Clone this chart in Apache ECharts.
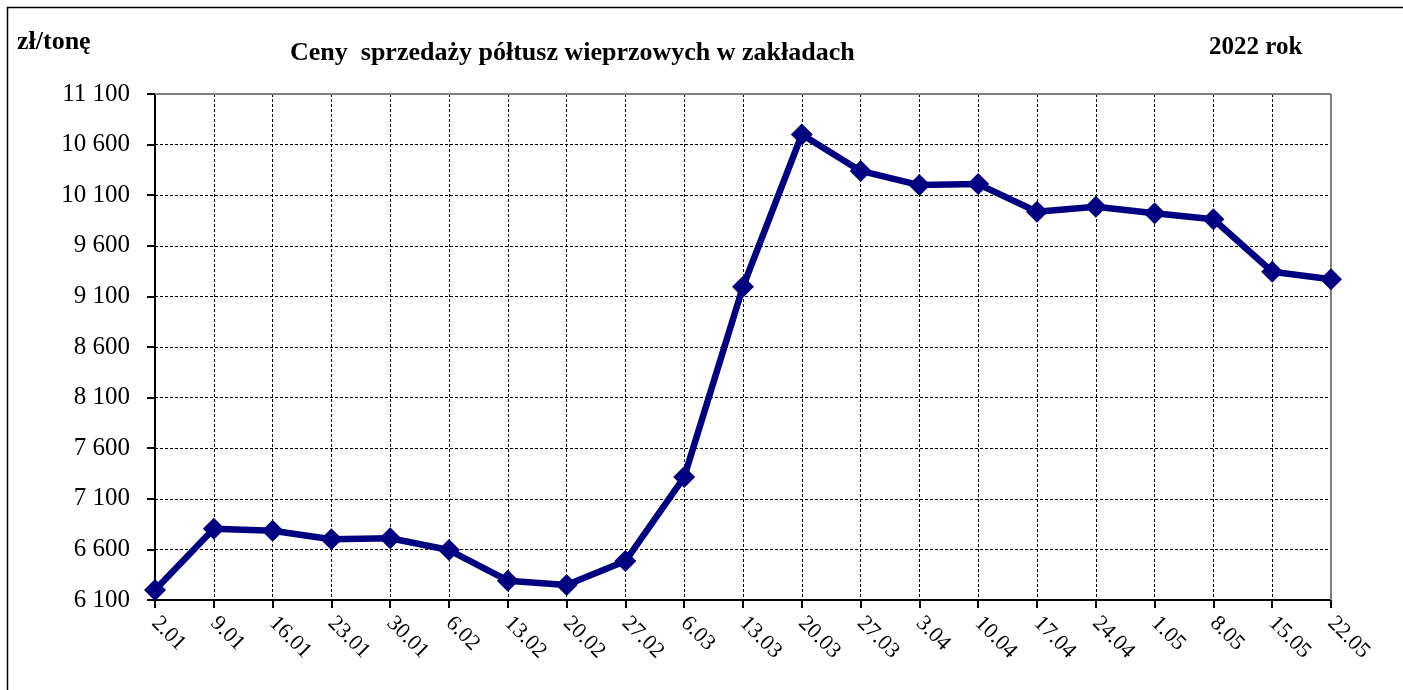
<!DOCTYPE html>
<html>
<head>
<meta charset="utf-8">
<script src="https://cdn.jsdelivr.net/npm/echarts@6/dist/echarts.min.js"></script>
<style>
  html, body { margin: 0; padding: 0; background: #fff; }
  #main { width: 1403px; height: 690px; }
</style>
</head>
<body>
<div id="main"></div>
<script>
// daty notowań
var dates = ['2.01','9.01','16.01','23.01','30.01','6.02','13.02','20.02','27.02','6.03',
  '13.03','20.03','27.03','3.04','10.04','17.04','24.04','1.05','8.05','15.05','22.05'];
// ceny w zł/tonę
var prices = [6200, 6805, 6785, 6700, 6710, 6594, 6291, 6248, 6485, 7315,
  9195, 10700, 10340, 10200, 10210, 9937, 9986, 9921, 9862, 9344, 9269];

var chart = echarts.init(document.getElementById('main'));

function fmt(v) {
  return String(v).replace(/\B(?=(\d{3})+(?!\d))/g, ' ');
}

var option = {
  animation: false,
  textStyle: { fontFamily: 'Liberation Serif' },
  grid: { left: 155, right: 72, top: 94, bottom: 90, containLabel: false },
  graphic: [
    {
      type: 'rect',
      shape: { x: 7.5, y: 7.5, width: 1420, height: 700 },
      style: { fill: 'none', stroke: '#000', lineWidth: 1.5 }
    },
    {
      type: 'text', x: 17, y: 42,
      style: { text: 'zł/tonę', font: 'bold 26px "Liberation Serif"', fill: '#000', verticalAlign: 'middle' }
    },
    {
      type: 'text', x: 290, y: 53,
      style: { text: 'Ceny  sprzedaży półtusz wieprzowych w zakładach', font: 'bold 26px "Liberation Serif"', fill: '#000', verticalAlign: 'middle' }
    },
    {
      type: 'text', x: 1209, y: 48,
      style: { text: '2022 rok', font: 'bold 25px "Liberation Serif"', fill: '#000', verticalAlign: 'middle' }
    }
  ],
  xAxis: {
    type: 'category',
    data: dates,
    boundaryGap: false,
    axisLine: { lineStyle: { color: '#000', width: 2 } },
    axisTick: { show: true, alignWithLabel: true, length: 8, lineStyle: { color: '#000', width: 2 } },
    axisLabel: { rotate: -45, color: '#000', fontSize: 22, margin: 20, fontFamily: 'Liberation Serif' },
    splitLine: { show: true, lineStyle: { color: '#000', type: [3, 2], width: 1 } }
  },
  yAxis: {
    type: 'value',
    min: 6100,
    max: 11100,
    interval: 500,
    axisLine: { show: true, lineStyle: { color: '#000', width: 2 } },
    axisTick: { show: true, length: 8, lineStyle: { color: '#000', width: 2 } },
    axisLabel: { color: '#000', fontSize: 25, margin: 25, fontFamily: 'Liberation Serif', formatter: fmt },
    splitLine: { show: true, lineStyle: { color: '#000', type: [3, 2], width: 1 } }
  },
  series: [
    {
      type: 'line',
      data: prices,
      symbol: 'diamond',
      symbolSize: 22,
      lineStyle: { color: '#000080', width: 6.5 },
      itemStyle: { color: '#000080' },
      z: 5
    },
    {
      // ramka obszaru wykresu (góra i prawa strona)
      type: 'line',
      data: [],
      markLine: {
        silent: true, symbol: 'none', label: { show: false },
        lineStyle: { color: '#808080', type: 'solid', width: 2 },
        data: [
          [{ coord: ['2.01', 11100] }, { coord: ['22.05', 11100] }],
          [{ coord: ['22.05', 11100] }, { coord: ['22.05', 6100] }]
        ]
      }
    }
  ]
};

chart.setOption(option);
</script>
</body>
</html>
